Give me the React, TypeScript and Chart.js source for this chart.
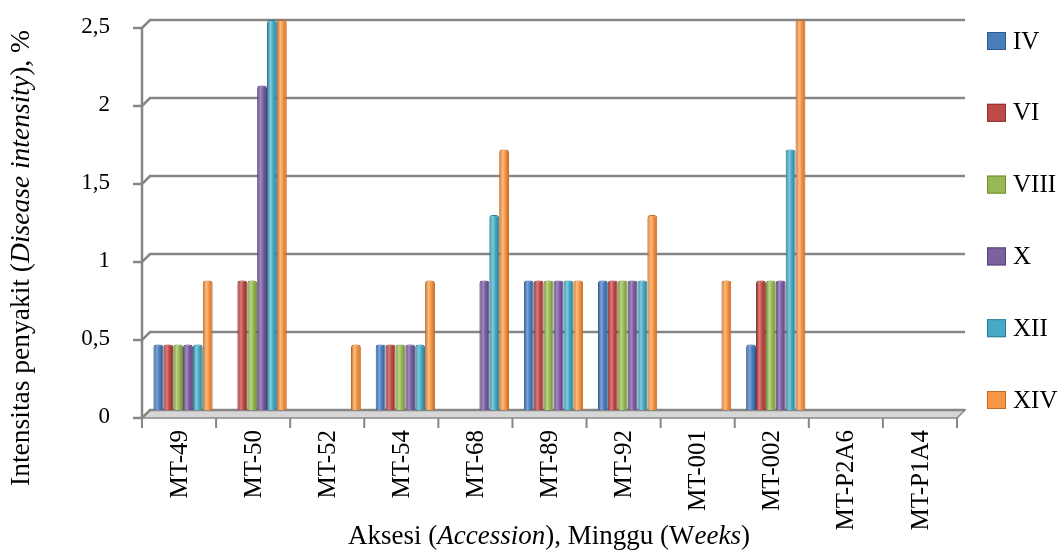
import { useEffect, useRef } from 'react';
import { Chart, registerables } from 'chart.js';

Chart.register(...registerables);

const categories = ['MT-49', 'MT-50', 'MT-52', 'MT-54', 'MT-68', 'MT-89', 'MT-92', 'MT-001', 'MT-002', 'MT-P2A6', 'MT-P1A4'];
const seriesNames = ['IV', 'VI', 'VIII', 'X', 'XII', 'XIV'];
const weekIV = [0.42, 0, 0, 0.42, 0, 0.83, 0.83, 0, 0.42, 0, 0];
const weekVI = [0.42, 0.83, 0, 0.42, 0, 0.83, 0.83, 0, 0.83, 0, 0];
const weekVIII = [0.42, 0.83, 0, 0.42, 0, 0.83, 0.83, 0, 0.83, 0, 0];
const weekX = [0.42, 2.08, 0, 0.42, 0.83, 0.83, 0.83, 0, 0.83, 0, 0];
const weekXII = [0.42, 2.5, 0, 0.42, 1.25, 0.83, 0.83, 0, 1.67, 0, 0];
const weekXIV = [0.83, 2.5, 0.42, 0.83, 1.67, 0.83, 1.25, 0.83, 2.5, 0, 0];
const yTicks = [0, 0.5, 1, 1.5, 2, 2.5];

const seriesValues = [weekIV, weekVI, weekVIII, weekX, weekXII, weekXIV];
const baseColors = ['#4A7EBB', '#BE4B48', '#98B954', '#7D60A0', '#46AAC5', '#F79646'];
const darkColors = ['#2F5A8F', '#8E2F2D', '#6E8A35', '#563F78', '#2A7D94', '#C46A20'];
const lightColors = ['#7FA6D8', '#DB7D7A', '#BCD688', '#A38BC2', '#84CBDD', '#FBBD86'];

const CAT_PCT = 0.8;
const DEPTH = 8;
const SERIF = '"Liberation Serif", "Times New Roman", serif';

function fillColor(ctx: any) {
  const chart = ctx.chart;
  const d = ctx.datasetIndex;
  const i = ctx.dataIndex;
  const xs = chart.scales && chart.scales.x;
  const ca = chart.chartArea;
  if (!xs || !ca || i === undefined) return baseColors[d];
  const catW = ca.width / categories.length;
  const center = xs.getPixelForValue(i);
  const barW = (catW * CAT_PCT) / seriesNames.length;
  const left = center - (catW * CAT_PCT) / 2 + d * barW;
  if (!isFinite(left) || !isFinite(barW) || barW <= 0) return baseColors[d];
  const g = chart.ctx.createLinearGradient(left, 0, left + barW, 0);
  g.addColorStop(0, darkColors[d]);
  g.addColorStop(0.35, lightColors[d]);
  g.addColorStop(0.6, baseColors[d]);
  g.addColorStop(1, darkColors[d]);
  return g;
}

type Seg = { t: string; it: boolean };

function drawMixed(c: CanvasRenderingContext2D, segs: Seg[], size: number, cx: number, cy: number) {
  let total = 0;
  const widths = segs.map((s) => {
    c.font = `${s.it ? 'italic ' : ''}${size}px ${SERIF}`;
    const w = c.measureText(s.t).width;
    total += w;
    return w;
  });
  let x = cx - total / 2;
  c.textBaseline = 'middle';
  c.textAlign = 'left';
  c.fillStyle = '#000';
  segs.forEach((s, k) => {
    c.font = `${s.it ? 'italic ' : ''}${size}px ${SERIF}`;
    c.fillText(s.t, x, cy);
    x += widths[k];
  });
}

const decorPlugin = {
  id: 'decor3d',
  beforeDatasetsDraw(chart: any) {
    const c: CanvasRenderingContext2D = chart.ctx;
    const ys = chart.scales.y;
    const ca = chart.chartArea;
    const frontLeft = ca.left - 4;
    const backLeft = frontLeft + DEPTH;
    const frontRight = ca.right - 4;
    const backRight = frontRight + DEPTH;
    const y0 = ys.getPixelForValue(0);
    c.save();
    // floor
    c.beginPath();
    c.moveTo(frontLeft, y0 + DEPTH);
    c.lineTo(backLeft, y0);
    c.lineTo(backRight, y0);
    c.lineTo(frontRight, y0 + DEPTH);
    c.closePath();
    c.fillStyle = '#d6d6d6';
    c.fill();
    c.strokeStyle = '#8a8a8a';
    c.lineWidth = 1.5;
    c.stroke();
    // gridlines
    c.strokeStyle = '#868686';
    c.lineWidth = 2.5;
    yTicks.forEach((v) => {
      const yb = ys.getPixelForValue(v);
      c.beginPath();
      c.moveTo(frontLeft - 9, yb + DEPTH);
      c.lineTo(frontLeft, yb + DEPTH);
      c.lineTo(backLeft, yb);
      c.lineTo(backRight, yb);
      c.stroke();
    });
    // front vertical axis
    const yTop = ys.getPixelForValue(yTicks[yTicks.length - 1]);
    c.beginPath();
    c.moveTo(frontLeft, yTop + DEPTH);
    c.lineTo(frontLeft, y0 + DEPTH);
    c.stroke();
    // category ticks
    c.lineWidth = 2;
    const n = categories.length;
    for (let i = 0; i <= n; i++) {
      const xf = ca.left + (i * ca.width) / n - 4;
      c.beginPath();
      c.moveTo(xf, y0 + DEPTH);
      c.lineTo(xf, y0 + DEPTH + 10);
      c.stroke();
    }
    c.restore();
  },
  afterDraw(chart: any) {
    const c: CanvasRenderingContext2D = chart.ctx;
    c.save();
    // legend
    seriesNames.forEach((name, k) => {
      const cy = 41 + k * 71.8;
      c.fillStyle = baseColors[k];
      c.fillRect(987, cy - 9, 19, 18);
      c.strokeStyle = darkColors[k];
      c.lineWidth = 1;
      c.strokeRect(987.5, cy - 8.5, 18, 17);
      c.fillStyle = '#000';
      c.font = `25px ${SERIF}`;
      c.textBaseline = 'middle';
      c.textAlign = 'left';
      c.fillText(name, 1013, cy + 1);
    });
    // x title
    drawMixed(
      c,
      [
        { t: 'Aksesi (', it: false },
        { t: 'Accession', it: true },
        { t: '), Minggu (W', it: false },
        { t: 'eeks', it: true },
        { t: ')', it: false },
      ],
      27,
      549,
      537
    );
    // y title
    c.translate(22, 258);
    c.rotate(-Math.PI / 2);
    drawMixed(
      c,
      [
        { t: 'Intensitas penyakit (', it: false },
        { t: 'Disease intensity', it: true },
        { t: '), %', it: false },
      ],
      27.5,
      0,
      0
    );
    c.restore();
  },
};

export default function App() {
  const ref = useRef<HTMLCanvasElement | null>(null);
  useEffect(() => {
    if (!ref.current) return;
    const chart = new Chart(ref.current, {
      type: 'bar',
      data: {
        labels: categories,
        datasets: seriesNames.map((name, k) => ({
          label: name,
          data: seriesValues[k],
          backgroundColor: fillColor,
          borderColor: darkColors[k],
          borderWidth: 1,
          borderRadius: { topLeft: 3, topRight: 3, bottomLeft: 0, bottomRight: 0 },
          borderSkipped: 'start',
          categoryPercentage: CAT_PCT,
          barPercentage: 1,
        })),
      },
      options: {
        animation: false,
        responsive: false,
        layout: { padding: { top: 20, right: 101, left: 0, bottom: 0 } },
        plugins: {
          legend: { display: false },
          tooltip: { enabled: false },
        },
        scales: {
          x: {
            grid: { display: false, drawTicks: false },
            border: { display: false },
            ticks: {
              minRotation: 90,
              maxRotation: 90,
              padding: 20,
              labelOffset: -3,
              color: '#000',
              font: { family: SERIF, size: 25 },
            },
            afterFit(scale: any) {
              scale.height = 148;
            },
          },
          y: {
            min: 0,
            max: 2.5,
            grid: { display: false, drawTicks: false },
            border: { display: false },
            afterBuildTicks(scale: any) {
              scale.ticks = yTicks.map((v) => ({ value: v }));
            },
            ticks: {
              padding: 36,
              labelOffset: 7,
              color: '#000',
              font: { family: SERIF, size: 23 },
              callback: (v: any) => String(v).replace('.', ','),
            },
            afterFit(scale: any) {
              scale.width = 146;
              scale.paddingTop = 0;
              scale.paddingBottom = 0;
            },
          },
        },
      },
      plugins: [decorPlugin],
    });
    return () => chart.destroy();
  }, []);
  return (
    <div style={{ position: 'absolute', left: 0, top: 0, width: 1062, height: 558, background: '#fff' }}>
      <canvas ref={ref} width={1062} height={558} style={{ display: 'block' }} />
    </div>
  );
}
